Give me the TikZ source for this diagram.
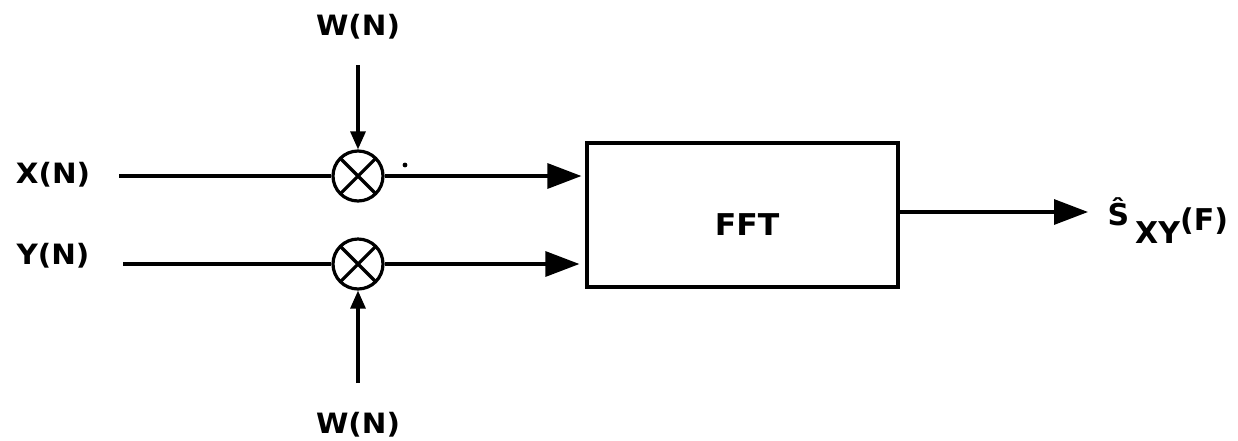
\documentclass[tikz,border=0pt]{standalone}
\usepackage{fontspec}
\newfontfamily\plotfont[FakeStretch=1.05]{DejaVu Sans Bold}
\newfontfamily\outfont{DejaVu Sans Bold}
\usetikzlibrary{arrows.meta}
\begin{document}
\begin{tikzpicture}[x=1pt,y=-1pt,
  line width=3.2pt,
  lbl/.style={font=\plotfont\fontsize{28}{28}\selectfont, inner sep=0pt},
  mult/.style={circle, draw, minimum size=50pt, inner sep=0pt,
    path picture={\draw[line width=3.2pt]
      (path picture bounding box.north west) -- (path picture bounding box.south east)
      (path picture bounding box.north east) -- (path picture bounding box.south west);}},
  bigarrow/.style={-{Triangle[length=34pt,width=25pt]}},
  smallarrow/.style={-{Triangle[length=18pt,width=15pt]}},
]
\useasboundingbox (0,0) rectangle (1238,440);

% labels
\node[lbl] (wtop) at (358,27) {W(N)};
\node[lbl] (wbot) at (358,425) {W(N)};
\node[lbl] (xlab) at (53,175) {X(N)};
\node[lbl] (ylab) at (53,256) {Y(N)};

% multipliers
\node[mult] (m1) at (358,176) {};
\node[mult] (m2) at (358,264) {};

% FFT box
\node[draw, minimum width=311pt, minimum height=144pt, inner sep=0pt] (fft) at (742.5,215) {};
\node[lbl, font=\plotfont\fontsize{30}{30}\selectfont] (ffttext) at (747,225) {FFT};

% output label
\node[anchor=base west, inner sep=0pt, font=\outfont\fontsize{30}{30}\selectfont] (out) at (1106,225)
  {Ŝ\hspace{6pt}\raisebox{-18pt}{XY}\raisebox{-5pt}{(F)}};

% free ends
\coordinate (xin) at (119,176);
\coordinate (yin) at (123,264);
\coordinate (wtopend) at (358,65);
\coordinate (wbotend) at (358,383);
\coordinate (outend) at (1088,212);

% connectors
\draw (xin) -- (m1.west);
\draw (yin) -- (m2.west);
\draw[bigarrow, shorten >=4pt] (m1.east) -- (m1.east -| fft.west);
\draw[bigarrow, shorten >=6pt] (m2.east) -- (m2.east -| fft.west);
\draw[smallarrow] (wtopend) -- (m1.north);
\draw[smallarrow] (wbotend) -- (m2.south);
\draw[bigarrow] (fft.east |- outend) -- (outend);

% stray dot
\fill (405,165) circle (2.4pt);
\end{tikzpicture}
\end{document}
